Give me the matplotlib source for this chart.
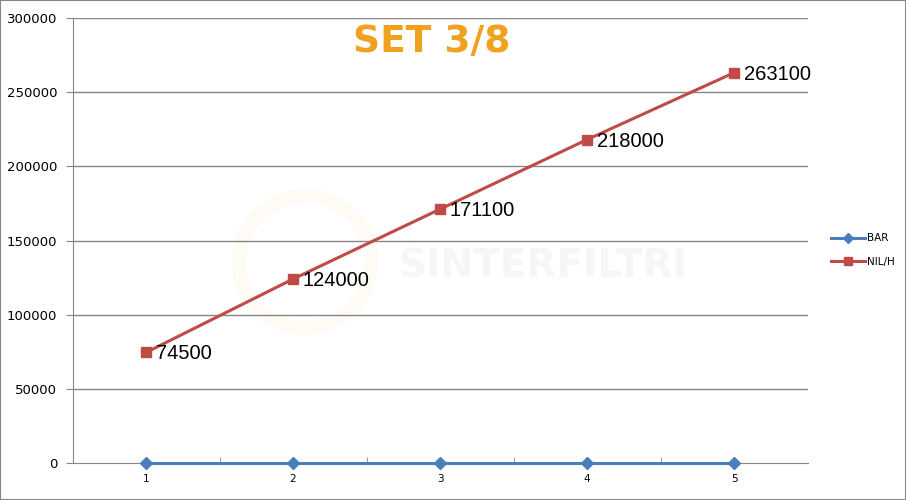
import matplotlib.pyplot as plt
from matplotlib.patches import Rectangle, Circle

x_cats = [1, 2, 3, 4, 5]
bar_vals = [0, 0, 0, 0, 0]
nil_vals = [74500, 124000, 171100, 218000, 263100]
y_ticks = [0, 50000, 100000, 150000, 200000, 250000, 300000]

fig = plt.figure(figsize=(9.06, 5.0), dpi=100)
ax = fig.add_axes([72.5 / 906, 1 - 463 / 500, (807.5 - 72.5) / 906, (463 - 18) / 500])
ax.set_zorder(2)

# faint watermark (logo ring + name), drawn under the axes
fig.text(543 / 906, 1 - 266 / 500, 'SINTERFILTRI', fontsize=28, fontweight='bold',
         color='#f6f6f6', ha='center', va='center', zorder=-1)
fig.patches.append(Circle((305, 500 - 262), 66, transform=None, fill=False, lw=10,
                          edgecolor='#fefbf4', zorder=-1))

for y in y_ticks[1:]:
    ax.axhline(y, color='#868686', lw=1, zorder=1)

ax.plot(x_cats, bar_vals, color='#4a7ebb', lw=2.2, marker='D', ms=6, label='BAR', zorder=3,
        clip_on=False)
ax.plot(x_cats, nil_vals, color='#be4b48', lw=2.2, marker='s', ms=7, label='NIL/H', zorder=3)

for x, v in zip(x_cats, nil_vals):
    ax.annotate(str(v), (x, v), xytext=(7, -1), textcoords='offset points', va='center',
                ha='left', fontsize=14.5, family='Liberation Sans', color='black')

ax.set_xlim(0.5, 5.5)
ax.set_ylim(0, 300000)
ax.set_yticks(y_ticks)
ax.set_yticklabels([str(t) for t in y_ticks])
ax.set_xticks(x_cats)
ax.set_xticks([1.5, 2.5, 3.5, 4.5], minor=True)
ax.tick_params(axis='y', labelsize=9.5, color='#868686', length=5, pad=6)
ax.tick_params(axis='x', which='major', labelsize=7.5, length=0, pad=8)
ax.tick_params(axis='x', which='minor', direction='in', length=4, color='#868686')
for s in ['top', 'right']:
    ax.spines[s].set_visible(False)
for s in ['left', 'bottom']:
    ax.spines[s].set_color('#868686')
ax.patch.set_alpha(0)

fig.text(432 / 906, 1 - 42 / 500, 'SET 3/8', fontsize=27, fontweight='bold',
         color='#f0a11e', ha='center', va='center', zorder=3)

ax.legend(loc='center left', bbox_to_anchor=(822 / 906, 0.5), bbox_transform=fig.transFigure,
          frameon=False, fontsize=7.5, handlelength=3.2, labelspacing=1.3, handletextpad=0.2,
          markerscale=0.8)

fig.patches.append(Rectangle((0, 0), 1, 1, transform=fig.transFigure, fill=False,
                             edgecolor='#868686', lw=1.5, zorder=5))

fig.savefig('out.png', dpi=100)
